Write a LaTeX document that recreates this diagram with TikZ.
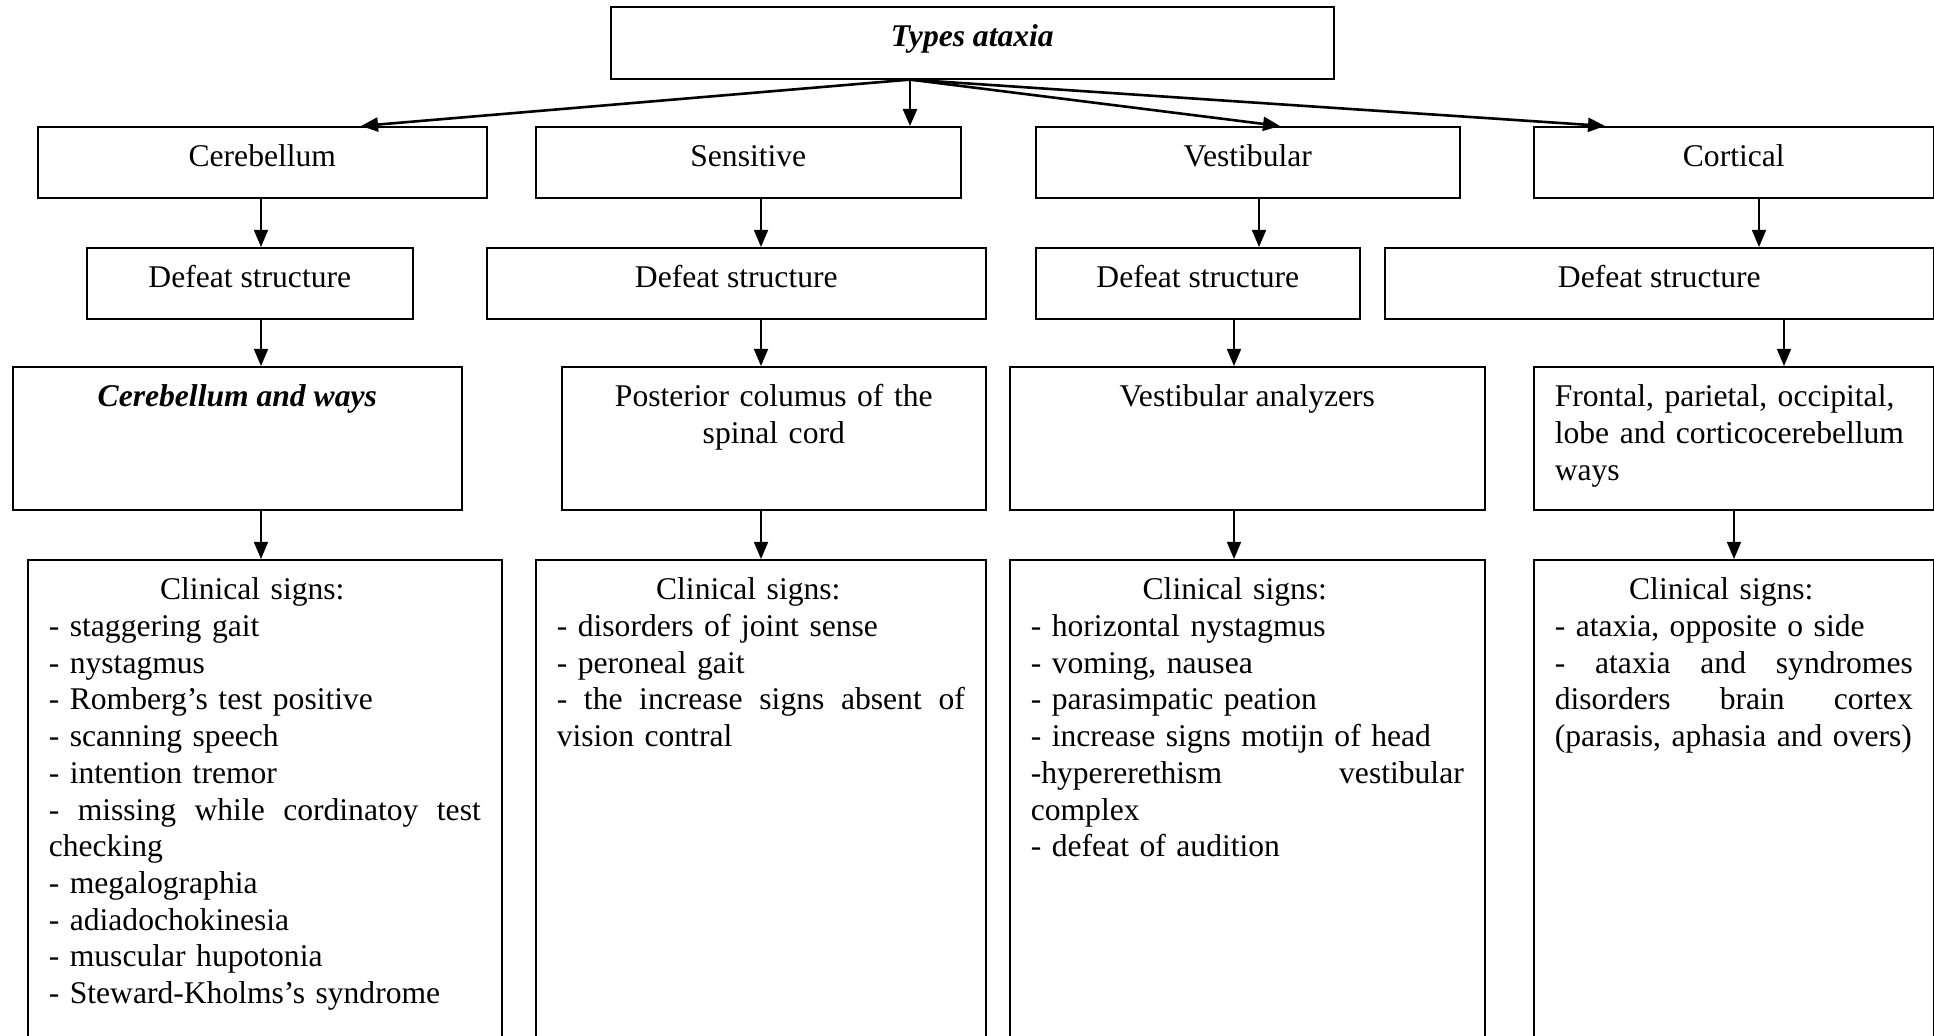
\documentclass[tikz,border=0pt]{standalone}
\usepackage{fontspec}
\setmainfont{Liberation Serif}
\usetikzlibrary{arrows.meta,positioning}

\begin{document}
\begin{tikzpicture}[x=0.5pt,y=-0.5pt,line width=0.8pt,>={Triangle[length=8.5pt,width=7pt]},
  font=\fontsize{15.8}{18.35}\selectfont,
  box/.style={draw,inner sep=0pt,anchor=north west},
  txt/.style={inner sep=0pt,execute at begin node=\strut},
  fan/.style={->,line width=1.3pt}]
  \useasboundingbox (0,0) rectangle (1934,1036);
  \clip (0,0) rectangle (1934,1036);
  % top box
  \node[box,minimum width=361.5pt,minimum height=36pt] (top) at (610,6) {};
  \node[txt,below=7.2pt of top.north] (topt) {\textbf{\textit{Types ataxia}}};
  % types
  \node[box,minimum width=224.5pt,minimum height=35.5pt] (cer1) at (37,126) {};
  \node[box,minimum width=212.5pt,minimum height=35.5pt] (sen1) at (535,126) {};
  \node[box,minimum width=212pt,minimum height=35.5pt] (ves1) at (1035,126) {};
  \node[box,minimum width=200pt,minimum height=35.5pt] (cor1) at (1533,126) {};
  \node[txt,below=7.2pt of cer1.north] (cer1t) {Cerebellum};
  \node[txt,below=7.2pt of sen1.north] (sen1t) {Sensitive};
  \node[txt,below=7.2pt of ves1.north] (ves1t) {Vestibular};
  \node[txt,below=7.2pt of cor1.north] (cor1t) {Cortical};
  % defeat structure
  \node[box,minimum width=163pt,minimum height=35.5pt] (def1) at (86,247) {};
  \node[box,minimum width=249.5pt,minimum height=35.5pt] (def2) at (486,247) {};
  \node[box,minimum width=162pt,minimum height=35.5pt] (def3) at (1035,247) {};
  \node[box,minimum width=274.5pt,minimum height=35.5pt] (def4) at (1384,247) {};
  \node[txt,below=7.2pt of def1.north] (def1t) {Defeat structure};
  \node[txt,below=7.2pt of def2.north] (def2t) {Defeat structure};
  \node[txt,below=7.2pt of def3.north] (def3t) {Defeat structure};
  \node[txt,below=7.2pt of def4.north] (def4t) {Defeat structure};
  % localisation
  \node[box,minimum width=224.5pt,minimum height=71.5pt] (cer3) at (12,366) {};
  \node[box,minimum width=212pt,minimum height=71.5pt] (sen3) at (561,366) {};
  \node[box,minimum width=237.5pt,minimum height=71.5pt] (ves3) at (1009,366) {};
  \node[box,minimum width=200pt,minimum height=71.5pt] (cor3) at (1533,366) {};
  \node[txt,below=7.2pt of cer3.north] (cer3t) {\textbf{\textit{Cerebellum and ways}}};
  \node[txt,below=7.2pt of sen3.north,text width=191pt,align=center] (sen3t) {Posterior columus of the\\spinal cord};
  \node[txt,below=7.2pt of ves3.north] (ves3t) {Vestibular analyzers};
  \node[txt,below=7.2pt of cor3.north,text width=179pt,align=left] (cor3t) {Frontal, parietal, occipital,\\lobe and corticocerebellum\\ways};
  % clinical signs
  \node[box,minimum width=237pt,minimum height=250pt] (cl1) at (27,559) {};
  \node[box,minimum width=225pt,minimum height=250pt] (cl2) at (535,559) {};
  \node[box,minimum width=237.5pt,minimum height=250pt] (cl3) at (1009,559) {};
  \node[box,minimum width=200pt,minimum height=250pt] (cl4) at (1533,559) {};
  \node[txt,below=7.2pt of cl1.north,text width=216pt,align=left] (cl1t) {%
    \makebox[\linewidth]{Clinical signs:\hspace{12.5pt}}\\
    - staggering gait\\
    - nystagmus\\
    - Romberg’s test positive\\
    - scanning speech\\
    - intention tremor\\
    \makebox[\linewidth][l]{-\hfill missing\hfill while\hfill cordinatoy\hfill test}\\
    checking\\
    - megalographia\\
    - adiadochokinesia\\
    - muscular hupotonia\\
    - Steward-Kholms’s syndrome};
  \node[txt,below=7.2pt of cl2.north,text width=204pt,align=left] (cl2t) {%
    \makebox[\linewidth]{Clinical signs:\hspace{12.5pt}}\\
    - disorders of joint sense\\
    - peroneal gait\\
    \makebox[\linewidth][l]{-\hfill the\hfill increase\hfill signs\hfill absent\hfill of}\\
    vision contral};
  \node[txt,below=7.2pt of cl3.north,text width=216.5pt,align=left] (cl3t) {%
    \makebox[\linewidth]{Clinical signs:\hspace{12.5pt}}\\
    - horizontal nystagmus\\
    - voming, nausea\\
    - parasimpatic peation\\
    - increase signs motijn of head\\
    \makebox[\linewidth][l]{-hypererethism\hfill vestibular}\\
    complex\\
    - defeat of audition};
  \node[txt,below=7.2pt of cl4.north,text width=179pt,align=left] (cl4t) {%
    \makebox[\linewidth]{Clinical signs:\hspace{12.5pt}}\\
    - ataxia, opposite o side\\
    \makebox[\linewidth][l]{-\hfill ataxia\hfill and\hfill syndromes}\\
    \makebox[\linewidth][l]{disorders\hfill brain\hfill cortex}\\
    (parasis, aphasia and overs)};
  % fan of arrows from the top box
  \coordinate (hub) at (top.south -| 910,0);
  \draw[fan] (hub) -- (cer1.north -| 361,0);
  \draw[fan] (hub) -- (sen1.north -| 910,0);
  \draw[fan] (hub) -- (ves1.north -| 1280,0);
  \draw[fan] (hub) -- (cor1.north -| 1605,0);
  % down the columns
  \draw[->] (cer1.south -| 261,0) -- (def1.north -| 261,0);
  \draw[->] (sen1.south -| 761,0) -- (def2.north -| 761,0);
  \draw[->] (ves1.south -| 1259,0) -- (def3.north -| 1259,0);
  \draw[->] (cor1.south -| 1759,0) -- (def4.north -| 1759,0);
  \draw[->] (def1.south -| 261,0) -- (cer3.north -| 261,0);
  \draw[->] (def2.south -| 761,0) -- (sen3.north -| 761,0);
  \draw[->] (def3.south -| 1234,0) -- (ves3.north -| 1234,0);
  \draw[->] (def4.south -| 1784,0) -- (cor3.north -| 1784,0);
  \draw[->] (cer3.south -| 261,0) -- (cl1.north -| 261,0);
  \draw[->] (sen3.south -| 761,0) -- (cl2.north -| 761,0);
  \draw[->] (ves3.south -| 1234,0) -- (cl3.north -| 1234,0);
  \draw[->] (cor3.south -| 1734,0) -- (cl4.north -| 1734,0);
\end{tikzpicture}
\end{document}
